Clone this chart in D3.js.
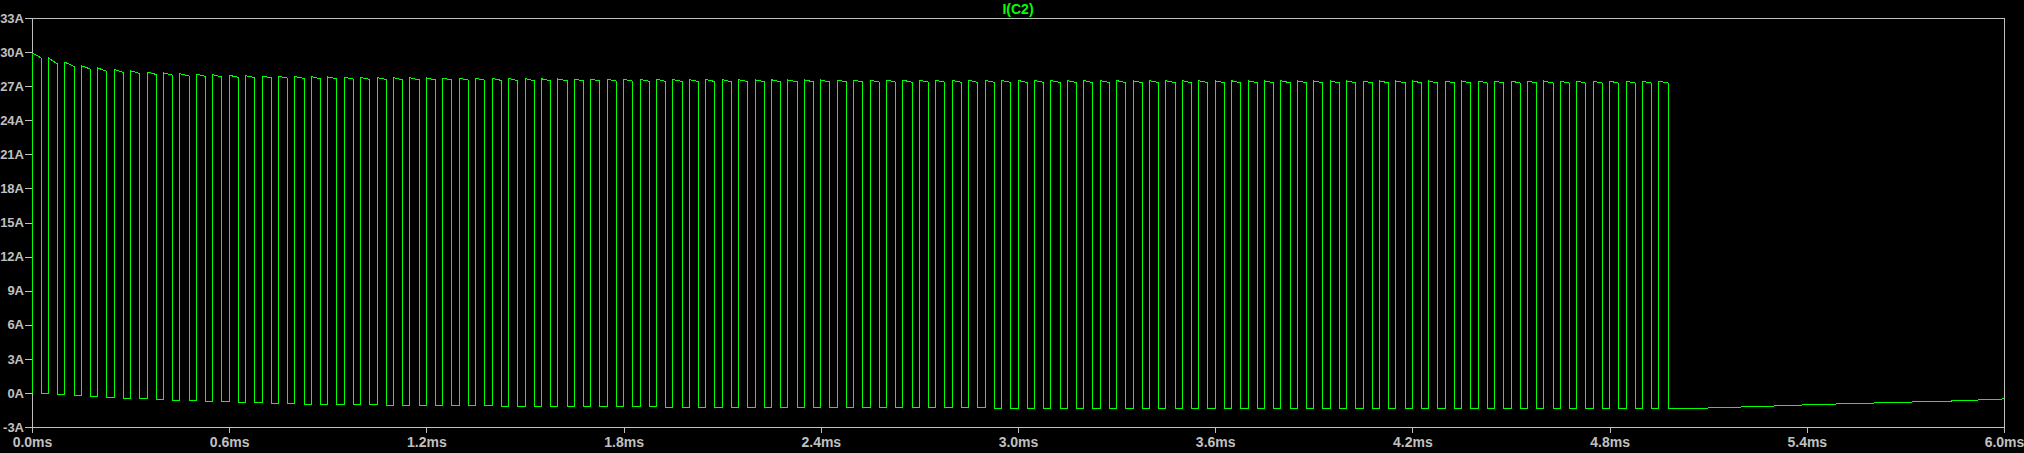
<!DOCTYPE html>
<html>
<head>
<meta charset="utf-8">
<script src="https://cdn.jsdelivr.net/npm/d3@7"></script>
<style>
  html, body { margin: 0; padding: 0; background: #000; }
  svg { display: block; }
  text { font-family: "Liberation Sans", Arial, sans-serif; font-weight: bold; }
</style>
</head>
<body>
<svg id="chart" width="2024" height="453"></svg>
<script>
// ---- data ----
const title = "I(C2)";
const yTickValues = [-3, 0, 3, 6, 9, 12, 15, 18, 21, 24, 27, 30, 33];
const yTickLabels = ["-3A", "0A", "3A", "6A", "9A", "12A", "15A", "18A", "21A", "24A", "27A", "30A", "33A"];
const xTickValues = [0, 0.6, 1.2, 1.8, 2.4, 3.0, 3.6, 4.2, 4.8, 5.4, 6.0];
const xTickLabels = ["0.0ms", "0.6ms", "1.2ms", "1.8ms", "2.4ms", "3.0ms", "3.6ms", "4.2ms", "4.8ms", "5.4ms", "6.0ms"];

// switching period and on-time (ms)
const period = 0.05;
const highTime = 0.0278;
const startValue = 0;

// current at start of each on-pulse (A)
const topStart = [
29.93, 29.49, 29.10, 28.80, 28.60, 28.46, 28.35, 28.25, 28.18, 28.10,
28.05, 28.00, 27.96, 27.92, 27.90, 27.87, 27.85, 27.83, 27.81, 27.79,
27.77, 27.76, 27.74, 27.73, 27.72, 27.71, 27.70, 27.69, 27.68, 27.67,
27.66, 27.65, 27.64, 27.63, 27.62, 27.62, 27.61, 27.60, 27.60, 27.59,
27.58, 27.58, 27.57, 27.57, 27.56, 27.56, 27.55, 27.55, 27.54, 27.54,
27.53, 27.53, 27.53, 27.52, 27.52, 27.52, 27.51, 27.51, 27.51, 27.50,
27.50, 27.50, 27.50, 27.49, 27.49, 27.49, 27.49, 27.48, 27.48, 27.48,
27.48, 27.48, 27.47, 27.47, 27.47, 27.47, 27.47, 27.47, 27.46, 27.46,
27.46, 27.46, 27.46, 27.46, 27.46, 27.45, 27.45, 27.45, 27.45, 27.45,
27.45, 27.45, 27.45, 27.44, 27.44, 27.44, 27.44, 27.44, 27.44, 27.44];

// current at end of each on-pulse (A)
const topEnd = [
29.49, 28.95, 28.75, 28.50, 28.30, 28.22, 28.12, 28.03, 27.97, 27.90,
27.86, 27.82, 27.78, 27.75, 27.73, 27.70, 27.68, 27.66, 27.64, 27.62,
27.60, 27.59, 27.57, 27.56, 27.55, 27.54, 27.53, 27.52, 27.51, 27.50,
27.49, 27.48, 27.47, 27.46, 27.45, 27.45, 27.44, 27.43, 27.43, 27.42,
27.41, 27.41, 27.40, 27.40, 27.39, 27.39, 27.38, 27.38, 27.37, 27.37,
27.36, 27.36, 27.36, 27.35, 27.35, 27.35, 27.34, 27.34, 27.34, 27.33,
27.33, 27.33, 27.33, 27.32, 27.32, 27.32, 27.32, 27.31, 27.31, 27.31,
27.31, 27.31, 27.30, 27.30, 27.30, 27.30, 27.30, 27.30, 27.29, 27.29,
27.29, 27.29, 27.29, 27.29, 27.29, 27.28, 27.28, 27.28, 27.28, 27.28,
27.28, 27.28, 27.28, 27.27, 27.27, 27.27, 27.27, 27.27, 27.27, 27.27];

// current during each off-interval (A)
const lowLevel = [
-0.06, -0.18, -0.27, -0.35, -0.44, -0.47, -0.53, -0.62, -0.68, -0.70,
-0.77, -0.79, -0.85, -0.87, -0.94, -0.96, -0.98, -1.00, -1.02, -1.04,
-1.06, -1.08, -1.09, -1.10, -1.12, -1.13, -1.14, -1.15, -1.16, -1.17,
-1.18, -1.19, -1.20, -1.21, -1.21, -1.22, -1.23, -1.23, -1.24, -1.25,
-1.25, -1.26, -1.26, -1.27, -1.27, -1.28, -1.28, -1.29, -1.29, -1.30,
-1.30, -1.30, -1.31, -1.31, -1.31, -1.32, -1.32, -1.32, -1.33, -1.33,
-1.33, -1.34, -1.34, -1.34, -1.34, -1.35, -1.35, -1.35, -1.35, -1.36,
-1.36, -1.36, -1.36, -1.37, -1.37, -1.37, -1.37, -1.37, -1.38, -1.38,
-1.38, -1.38, -1.38, -1.39, -1.39, -1.39, -1.39, -1.39, -1.39, -1.40,
-1.40, -1.40, -1.40, -1.40, -1.40, -1.41, -1.41, -1.41, -1.41, -1.41];

// slow recovery after switching stops
const tailTime  = [5.041, 5.175, 5.273, 5.419, 5.614, 5.857, 6.0];
const tailValue = [-1.38, -1.26, -1.18, -1.03, -0.88, -0.70, -0.53];

// ---- layout ----
const W = 2024, H = 453;
const m = { left: 32, top: 18, right: 20, bottom: 26 };
const svg = d3.select("#chart");
const x = d3.scaleLinear().domain([0, 6.0]).range([m.left, W - m.right]);
const y = d3.scaleLinear().domain([-3, 33]).range([H - m.bottom, m.top]);

const axisColor = "#c0c0c0";
const waveColor = "#00ff00";

// build waveform points
const pts = [[0, startValue]];
topStart.forEach((v, k) => {
  const t0 = k * period;
  pts.push([t0, v]);
  pts.push([t0 + highTime, topEnd[k]]);
  pts.push([t0 + highTime, lowLevel[k]]);
  if (k < topStart.length - 1) pts.push([t0 + period, lowLevel[k]]);
});
tailTime.forEach((t, i) => pts.push([t, tailValue[i]]));

// axes
const yAxis = d3.axisLeft(y).tickValues(yTickValues)
  .tickFormat((d, i) => yTickLabels[i]).tickSize(7).tickPadding(1);
const xAxis = d3.axisBottom(x).tickValues(xTickValues)
  .tickFormat((d, i) => xTickLabels[i]).tickSize(6).tickPadding(4);

const gy = svg.append("g").attr("transform", `translate(${m.left},0)`).call(yAxis);
const gx = svg.append("g").attr("transform", `translate(0,${H - m.bottom})`).call(xAxis);
[gx, gy].forEach(g => {
  g.select(".domain").remove();
  g.selectAll(".tick line").attr("stroke", axisColor).attr("shape-rendering", "crispEdges");
  g.selectAll(".tick text").attr("fill", axisColor);
});
gy.selectAll(".tick text").style("font-size", "13px");
gx.selectAll(".tick text").style("font-size", "14px");

// frame
svg.append("rect")
  .attr("x", m.left + 0.5).attr("y", m.top + 0.5)
  .attr("width", W - m.right - m.left).attr("height", H - m.bottom - m.top)
  .attr("fill", "none").attr("stroke", axisColor).attr("stroke-width", 1)
  .attr("shape-rendering", "crispEdges");

// waveform
const line = d3.line().x(d => x(d[0])).y(d => y(d[1]));
svg.append("path")
  .datum(pts)
  .attr("d", line)
  .attr("fill", "none")
  .attr("stroke", waveColor)
  .attr("stroke-width", 1)
  .attr("shape-rendering", "crispEdges");

// title
svg.append("text")
  .attr("x", (m.left + W - m.right) / 2).attr("y", 13.5)
  .attr("text-anchor", "middle")
  .attr("fill", waveColor)
  .style("font-size", "14px")
  .text(title);
</script>
</body>
</html>
